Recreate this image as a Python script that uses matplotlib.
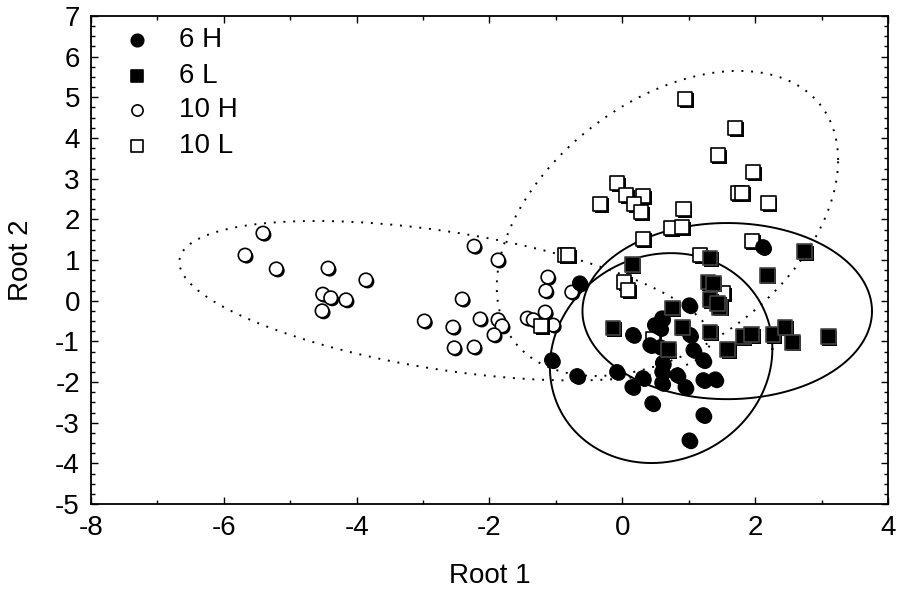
import numpy as np
import matplotlib
matplotlib.use("Agg")
import matplotlib.pyplot as plt
import matplotlib.patheffects as pe

plt.rcParams['font.family'] = ['Liberation Sans', 'DejaVu Sans']

# group 6 H (filled circles)
h6_x = [-0.64, -1.06, -0.68, -0.08, 0.16, 0.15, 0.31, 0.45, 0.60, 0.57, 0.57, 0.61,
        0.60, 0.60, 0.83, 0.95, 1.01, 1.02, 1.07, 1.22, 1.22, 1.40, 1.22, 1.01, 2.12,
        0.49, 0.42, 0.67]
h6_y = [0.43, -1.46, -1.85, -1.75, -0.84, -2.12, -1.90, -2.52, -0.43, -0.67, -1.14, -1.53,
        -1.75, -2.02, -1.83, -2.12, -0.11, -0.84, -1.21, -1.46, -1.95, -1.93, -2.81, -3.43, 1.32,
        -0.60, -1.09, -1.21]

# group 6 L (filled squares)
l6_x = [0.15, -0.14, 0.75, 0.90, 0.69, 1.29, 1.37, 1.32, 1.47, 1.44, 1.32, 1.59,
        1.82, 1.95, 2.18, 2.75, 2.27, 2.45, 2.56, 3.10, 1.32]
l6_y = [0.88, -0.67, -0.18, -0.65, -1.21, 0.46, 0.43, 0.02, -0.16, -0.06, -0.77, -1.21,
        -0.89, -0.84, 0.63, 1.20, -0.84, -0.65, -1.02, -0.89, 1.05]

# group 10 H (open circles)
h10_x = [-5.41, -5.68, -5.21, -4.43, -3.86, -4.51, -4.39, -4.16, -4.52,
         -2.23, -1.87, -2.41, -2.98, -2.55, -2.14, -1.87, -1.81, -1.93, -2.53, -2.23,
         -1.12, -1.15, -0.76, -1.16, -1.43, -1.34, -1.04]
h10_y = [1.66, 1.12, 0.78, 0.80, 0.51, 0.16, 0.07, 0.02, -0.25,
         1.34, 1.00, 0.04, -0.50, -0.65, -0.45, -0.47, -0.62, -0.84, -1.16, -1.14,
         0.58, 0.24, 0.21, -0.28, -0.43, -0.47, -0.60]

# group 10 L (open squares)
l10_x = [0.95, 1.70, 1.44, 1.97, -0.08, -0.33, 0.06, 0.31, 0.18, 0.28, 0.92, 1.74,
         1.80, 2.20, 0.73, 0.90, 0.31, -0.86, -0.82, 1.17, 1.95, 0.03, 0.09, -1.22,
         1.52, 0.46]
l10_y = [4.96, 4.25, 3.58, 3.16, 2.89, 2.38, 2.60, 2.57, 2.38, 2.18, 2.25, 2.65,
         2.65, 2.40, 1.79, 1.81, 1.52, 1.12, 1.12, 1.12, 1.47, 0.46, 0.26, -0.62,
         0.19, -0.94]

# ellipses: centre x, centre y, half-width x, half-height y, phase (deg)
ell_6h = [0.585, -1.41, 1.675, 2.58, 85]
ell_6l = [1.58, -0.255, 2.18, 2.165, 90]
ell_10h = [-2.67, 0.0, 4.0, 1.96, 119]
ell_10l = [0.68, 1.9, 2.57, 3.75, 65.4]

labels = ['6 H', '6 L', '10 H', '10 L']


def ellipse_xy(p):
    t = np.linspace(0, 2 * np.pi, 400)
    cx, cy, a, b, ph = p
    return cx + a * np.cos(t), cy + b * np.cos(t - np.radians(ph))


fig = plt.figure(figsize=(9.01, 5.91), dpi=100)
ax = fig.add_axes([0.101, 0.147, 0.8845, 0.826])

shadow = [pe.SimplePatchShadow(offset=(1.2, -1.2), shadow_rgbFace='k', alpha=1.0), pe.Normal()]

for p, ls in [(ell_6h, '-'), (ell_6l, '-'), (ell_10h, (0, (1, 4))), (ell_10l, (0, (1, 4)))]:
    ex, ey = ellipse_xy(p)
    ax.plot(ex, ey, color='k', lw=1.4, ls=ls, zorder=2)

ax.scatter(h10_x, h10_y, s=95, marker='o', facecolor='white', edgecolor='k',
           linewidth=1.2, zorder=3, path_effects=shadow)
ax.scatter(l10_x, l10_y, s=105, marker='s', facecolor='white', edgecolor='k',
           linewidth=1.2, zorder=3, path_effects=shadow)
ax.scatter(h6_x, h6_y, s=110, marker='o', facecolor='k', edgecolor='k',
           linewidth=0.8, zorder=4, path_effects=shadow)
ax.scatter(l6_x, l6_y, s=115, marker='s', facecolor='k', edgecolor='#444444',
           linewidth=1.2, zorder=4, path_effects=shadow)

# legend, laid out by hand
leg_styles = [('o', 'k', 80), ('s', 'k', 75), ('o', 'white', 65), ('s', 'white', 65)]
leg_y = [0.951, 0.877, 0.807, 0.734]
for (m, fc, s), yy, lab in zip(leg_styles, leg_y, labels):
    ax.scatter([0.0577], [yy], s=s, marker=m, facecolor=fc, edgecolor='k',
               linewidth=1.2, transform=ax.transAxes, zorder=5, clip_on=False)
    ax.text(0.110, yy, lab, transform=ax.transAxes, fontsize=20,
            ha='left', va='center')

ax.set_xlim(-8, 4)
ax.set_ylim(-5, 7)
ax.set_xticks(np.arange(-8, 5, 2))
ax.set_xticks(np.arange(-8, 5, 1), minor=True)
ax.set_yticks(np.arange(-5, 8, 1))
ax.set_yticks(np.arange(-5, 7.01, 0.25), minor=True)
ax.set_xticklabels([str(v) for v in range(-8, 5, 2)])
ax.set_yticklabels([str(v) for v in range(-5, 8)])
ax.tick_params(which='both', direction='in', top=True, right=True, labelsize=20,
               width=1.0, colors='k')
ax.tick_params(which='major', length=5)
ax.tick_params(which='minor', length=3)
ax.tick_params(axis='x', pad=8)
ax.tick_params(axis='y', pad=8)
for s in ax.spines.values():
    s.set_linewidth(1.3)

ax.set_xlabel('Root 1', fontsize=20, labelpad=16)
ax.set_ylabel('Root 2', fontsize=20)
ax.yaxis.set_label_coords(-0.072, 0.5)

fig.savefig('out.png', dpi=100)
